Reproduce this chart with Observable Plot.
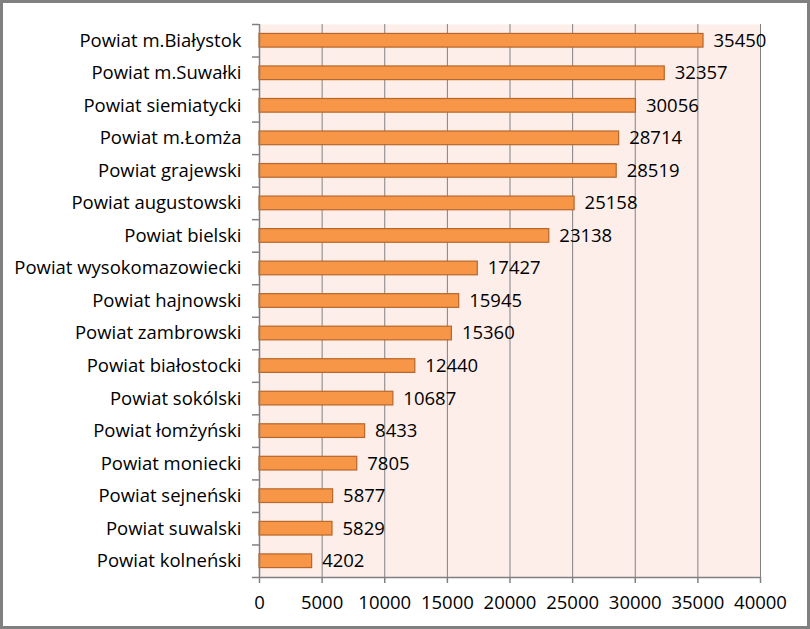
<!DOCTYPE html>
<html>
<head>
<meta charset="utf-8">
<script src="https://cdn.jsdelivr.net/npm/d3@7"></script>
<script src="https://cdn.jsdelivr.net/npm/@observablehq/plot@0.6"></script>
<style>
  html, body { margin: 0; padding: 0; background: #fff; }
  #wrap { position: relative; width: 810px; height: 629px; overflow: hidden; }
  #frame { position: absolute; left: 0; top: 0; width: 810px; height: 629px; box-sizing: border-box; border: 3px solid #808080; pointer-events: none; }
  svg { display: block; }
</style>
</head>
<body>
<div id="wrap"><div id="frame"></div></div>
<script>
const categories = [
  "Powiat m.Białystok", "Powiat m.Suwałki", "Powiat siemiatycki", "Powiat m.Łomża",
  "Powiat grajewski", "Powiat augustowski", "Powiat bielski", "Powiat wysokomazowiecki",
  "Powiat hajnowski", "Powiat zambrowski", "Powiat białostocki", "Powiat sokólski",
  "Powiat łomżyński", "Powiat moniecki", "Powiat sejneński", "Powiat suwalski", "Powiat kolneński"
];
const values = [35450, 32357, 30056, 28714, 28519, 25158, 23138, 17427, 15945, 15360, 12440, 10687, 8433, 7805, 5877, 5829, 4202];
const xTicks = [0, 5000, 10000, 15000, 20000, 25000, 30000, 35000, 40000];

const data = categories.map((c, i) => ({name: c, value: values[i]}));
const font = "'Open Sans', sans-serif";
const fs = 18.5;

const W = 810, H = 629, mL = 259, mR = 50, mT = 24, mB = 52;
const step = (H - mT - mB) / categories.length;
const tickLen = 7 * 40000 / (W - mL - mR);

const chart = Plot.plot({
  width: W,
  height: H,
  marginLeft: mL,
  marginRight: mR,
  marginTop: mT,
  marginBottom: mB,
  style: {fontFamily: font, fontSize: fs + "px", color: "#000", background: "transparent"},
  x: {domain: [0, 40000], ticks: xTicks, label: null, tickSize: 0},
  y: {domain: categories, label: null, paddingInner: 0.58, paddingOuter: 0.29, round: false, tickSize: 0},
  marks: [
    Plot.frame({fill: "#FDEEEA", stroke: null}),
    Plot.ruleX(xTicks.slice(1), {stroke: "#808080", strokeWidth: 1}),
    Plot.barX(data, {y: "name", x: "value", fill: "#F79646", stroke: "#B8662A", strokeWidth: 1.2}),
    Plot.text(data, {y: "name", x: "value", text: d => String(d.value), textAnchor: "start", dx: 10, fontSize: fs, fill: "#000"}),
    Plot.ruleX([0], {stroke: "#808080", strokeWidth: 1.5}),
    Plot.axisX({ticks: xTicks, tickSize: 6, tickPadding: 12, stroke: "#808080", strokeWidth: 1.5, fontSize: fs, fill: "#000", tickFormat: d => String(d)}),
    Plot.axisY({tickSize: 0, tickPadding: 18, fontSize: fs, fill: "#000"}),
    // band boundary ticks on the y axis and the x axis line
    Plot.ruleY(categories, {y: d => d, x1: -tickLen, x2: 0, dy: -step / 2, stroke: "#808080", strokeWidth: 1.5}),
    Plot.ruleY([categories[categories.length - 1]], {y: d => d, x1: -tickLen, x2: 40000, dy: step / 2, stroke: "#808080", strokeWidth: 1.5})
  ]
});

document.getElementById("wrap").insertBefore(chart, document.getElementById("frame"));
</script>
</body>
</html>
